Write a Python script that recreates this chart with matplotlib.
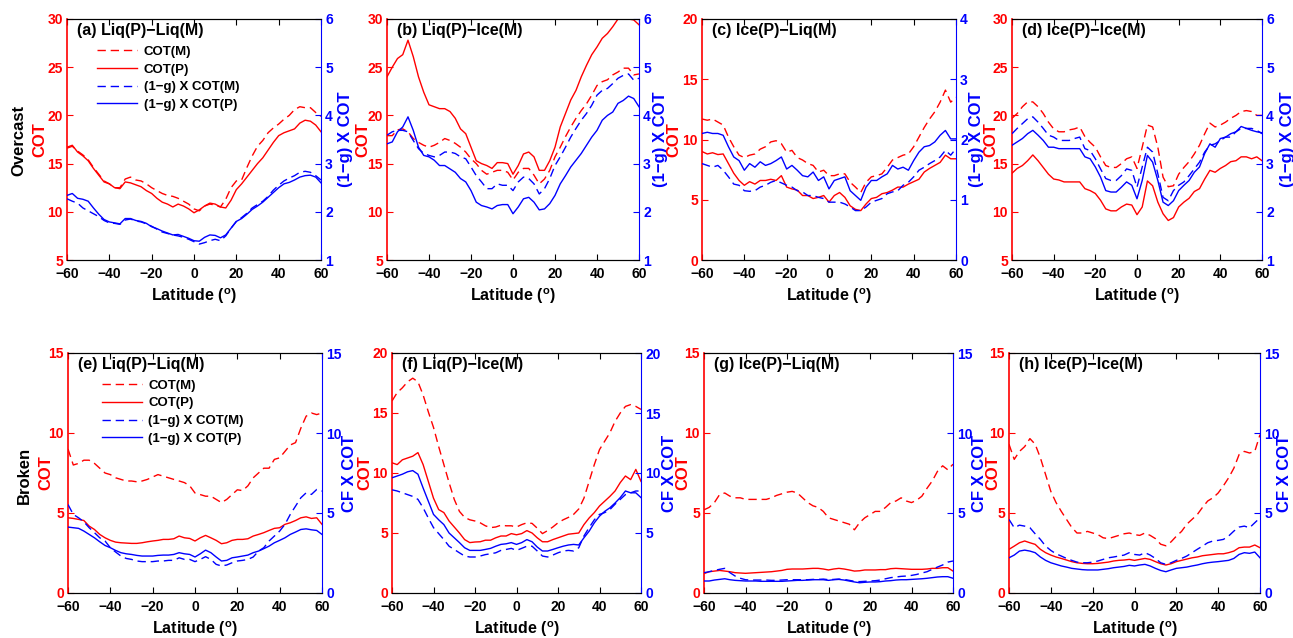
import numpy as np
import matplotlib.pyplot as plt

plt.rcParams['font.family'] = ['Liberation Sans', 'DejaVu Sans']
plt.rcParams['font.weight'] = 'bold'
plt.rcParams['mathtext.fontset'] = 'custom'
plt.rcParams['mathtext.rm'] = 'Liberation Sans:bold'

# latitude grid (every 2.5 degrees)
lat = np.arange(-60, 60.1, 2.5)

# ---------- Overcast ----------
a_cot_m = [16.6, 16.8, 16.3, 15.9, 15.4, 14.6, 13.9, 13.2, 12.9, 12.5,
           12.5, 13.4, 13.6, 13.3, 13.2, 12.9, 12.5, 12.2, 11.9, 11.7,
           11.6, 11.4, 11.1, 10.8, 10.3, 10.1, 10.6, 10.8, 10.7, 10.5,
           11.3, 12.5, 13.2, 13.3, 14.6, 15.8, 16.8, 17.4, 18.2, 18.7,
           19.1, 19.6, 20.0, 20.6, 20.9, 20.8, 20.8, 20.3, 19.9]
a_cot_p = [16.7, 16.9, 16.2, 15.8, 15.3, 14.5, 13.8, 13.1, 12.9, 12.5,
           12.4, 13.1, 13.0, 12.8, 12.6, 12.2, 11.9, 11.4, 11.0, 10.8,
           10.5, 10.8, 10.6, 10.3, 9.9, 10.2, 10.6, 10.9, 10.8, 10.5,
           10.4, 11.2, 12.3, 12.9, 13.6, 14.3, 15.0, 15.6, 16.4, 17.2,
           17.9, 18.2, 18.4, 18.6, 19.2, 19.5, 19.4, 19.0, 18.3]
a_gcot_m = [2.27, 2.22, 2.18, 2.08, 2.02, 1.96, 1.90, 1.82, 1.77, 1.76,
            1.74, 1.83, 1.85, 1.81, 1.79, 1.75, 1.70, 1.64, 1.58, 1.55,
            1.52, 1.50, 1.47, 1.43, 1.38, 1.33, 1.36, 1.40, 1.43, 1.40,
            1.50, 1.66, 1.80, 1.88, 1.97, 2.08, 2.15, 2.22, 2.32, 2.45,
            2.55, 2.64, 2.70, 2.75, 2.82, 2.84, 2.82, 2.75, 2.66]
a_gcot_p = [2.34, 2.38, 2.28, 2.26, 2.22, 2.08, 1.95, 1.84, 1.79, 1.77,
            1.75, 1.86, 1.86, 1.82, 1.80, 1.76, 1.69, 1.65, 1.60, 1.56,
            1.52, 1.53, 1.49, 1.45, 1.40, 1.39, 1.47, 1.52, 1.51, 1.46,
            1.52, 1.66, 1.80, 1.86, 1.95, 2.05, 2.12, 2.20, 2.30, 2.40,
            2.50, 2.58, 2.61, 2.66, 2.72, 2.75, 2.76, 2.72, 2.60]

b_cot_m = [17.9, 17.9, 18.5, 18.6, 18.3, 17.6, 17.2, 16.9, 16.7, 16.9,
           17.2, 17.6, 17.4, 17.1, 16.7, 16.2, 15.5, 15.0, 14.3, 13.9,
           14.1, 14.3, 14.3, 14.1, 13.3, 14.1, 14.5, 14.5, 13.8, 12.9,
           13.4, 14.3, 15.7, 16.7, 17.8, 18.8, 19.7, 20.5, 21.2, 22.1,
           23.1, 23.5, 23.7, 24.2, 24.5, 24.9, 24.9, 24.2, 24.3]
b_cot_p = [24.0, 25.0, 25.9, 26.3, 27.8, 26.1, 24.0, 22.4, 21.1, 20.9,
           20.7, 20.7, 20.4, 19.7, 18.6, 18.1, 16.7, 15.3, 15.0, 14.8,
           14.5, 15.1, 15.1, 15.0, 13.9, 14.8, 16.0, 16.2, 15.7, 14.3,
           14.3, 15.3, 16.7, 18.8, 20.2, 21.6, 22.6, 24.0, 25.2, 26.3,
           27.1, 28.0, 28.5, 29.2, 30.0, 30.4, 30.0, 29.9, 29.4]
b_gcot_m = [3.59, 3.66, 3.69, 3.69, 3.66, 3.48, 3.31, 3.21, 3.17, 3.14,
            3.17, 3.24, 3.24, 3.21, 3.14, 3.10, 2.93, 2.75, 2.62, 2.48,
            2.48, 2.58, 2.55, 2.55, 2.44, 2.62, 2.72, 2.69, 2.58, 2.37,
            2.48, 2.69, 2.96, 3.14, 3.34, 3.55, 3.73, 3.90, 4.04, 4.21,
            4.42, 4.52, 4.56, 4.66, 4.77, 4.83, 4.86, 4.73, 4.77]
b_gcot_p = [3.41, 3.45, 3.66, 3.76, 3.97, 3.69, 3.34, 3.17, 3.14, 3.07,
            2.96, 2.96, 2.89, 2.82, 2.69, 2.62, 2.44, 2.20, 2.13, 2.10,
            2.06, 2.13, 2.15, 2.15, 1.96, 2.10, 2.27, 2.30, 2.20, 2.04,
            2.06, 2.17, 2.34, 2.58, 2.75, 2.93, 3.07, 3.21, 3.38, 3.55,
            3.69, 3.90, 4.00, 4.07, 4.25, 4.31, 4.40, 4.35, 4.18]

c_cot_m = [11.7, 11.6, 11.7, 11.45, 11.2, 10.2, 9.4, 8.7, 8.5, 8.7,
           8.8, 9.2, 9.4, 9.8, 9.9, 9.65, 8.95, 9.1, 8.5, 8.3,
           8.0, 7.85, 7.3, 7.45, 7.0, 7.0, 7.15, 7.15, 6.45, 6.05,
           5.6, 6.45, 6.9, 7.0, 7.15, 7.7, 8.3, 8.5, 8.7, 8.8,
           9.4, 10.2, 11.0, 11.7, 12.3, 13.1, 14.1, 13.1, 13.5]
c_cot_p = [9.0, 8.8, 8.9, 8.75, 8.8, 8.0, 7.2, 6.6, 6.2, 6.5,
           6.3, 6.6, 6.6, 6.7, 6.6, 7.0, 6.05, 5.9, 5.8, 5.35,
           5.35, 5.1, 5.2, 5.35, 4.8, 5.35, 5.6, 5.2, 4.5, 4.2,
           4.1, 4.65, 5.1, 5.2, 5.5, 5.6, 5.8, 6.05, 6.05, 6.3,
           6.5, 6.7, 7.3, 7.6, 7.85, 8.1, 8.7, 8.4, 8.4]
c_gcot_m = [1.60, 1.57, 1.54, 1.57, 1.49, 1.38, 1.26, 1.24, 1.15, 1.14,
            1.15, 1.21, 1.24, 1.29, 1.32, 1.28, 1.24, 1.21, 1.15, 1.13,
            1.07, 1.07, 1.04, 1.02, 0.96, 0.96, 0.96, 0.93, 0.88, 0.82,
            0.82, 0.88, 0.96, 0.99, 1.02, 1.10, 1.13, 1.15, 1.24, 1.29,
            1.38, 1.49, 1.54, 1.60, 1.65, 1.71, 1.82, 1.74, 1.85]
c_gcot_p = [2.10, 2.12, 2.10, 2.10, 2.07, 1.88, 1.71, 1.65, 1.49, 1.60,
            1.54, 1.63, 1.57, 1.60, 1.65, 1.71, 1.51, 1.57, 1.49, 1.40,
            1.38, 1.46, 1.32, 1.38, 1.18, 1.32, 1.35, 1.38, 1.15, 1.07,
            0.99, 1.21, 1.32, 1.32, 1.38, 1.43, 1.57, 1.51, 1.54, 1.49,
            1.65, 1.79, 1.88, 1.90, 1.96, 2.07, 2.15, 2.01, 2.01]

d_cot_m = [19.7, 20.2, 20.9, 21.4, 21.4, 20.9, 20.2, 19.3, 18.6, 18.3,
           18.3, 18.5, 18.6, 18.8, 17.8, 17.2, 16.7, 15.7, 14.8, 14.6,
           14.6, 15.0, 15.5, 15.7, 14.5, 16.7, 19.0, 18.8, 16.7, 13.6,
           12.6, 12.7, 13.9, 14.6, 15.2, 16.0, 16.9, 18.1, 19.2, 18.8,
           19.0, 19.3, 19.7, 20.0, 20.4, 20.5, 20.4, 20.0, 20.0]
d_cot_p = [14.0, 14.5, 14.8, 15.3, 15.9, 15.3, 14.6, 13.9, 13.4, 13.3,
           13.1, 13.1, 13.1, 13.1, 12.4, 12.2, 11.9, 11.2, 10.3, 10.1,
           10.1, 10.5, 10.8, 10.7, 9.7, 10.5, 13.2, 12.7, 11.0, 9.8,
           9.1, 9.4, 10.5, 11.0, 11.4, 12.1, 12.4, 13.4, 14.3, 14.1,
           14.5, 14.8, 15.2, 15.3, 15.7, 15.7, 15.5, 15.7, 15.3]
d_gcot_m = [3.62, 3.73, 3.83, 3.93, 3.97, 3.86, 3.73, 3.59, 3.55, 3.48,
            3.48, 3.48, 3.52, 3.55, 3.31, 3.27, 3.10, 2.89, 2.69, 2.65,
            2.65, 2.75, 2.89, 2.86, 2.51, 2.93, 3.34, 3.24, 2.79, 2.30,
            2.23, 2.44, 2.55, 2.62, 2.75, 2.89, 3.03, 3.24, 3.38, 3.41,
            3.48, 3.55, 3.55, 3.66, 3.73, 3.73, 3.73, 3.69, 3.62]
d_gcot_p = [3.38, 3.45, 3.52, 3.62, 3.69, 3.59, 3.48, 3.34, 3.34, 3.31,
            3.31, 3.31, 3.31, 3.31, 3.14, 3.10, 2.93, 2.72, 2.44, 2.41,
            2.41, 2.51, 2.62, 2.55, 2.27, 2.65, 3.17, 3.03, 2.65, 2.20,
            2.13, 2.23, 2.44, 2.55, 2.65, 2.82, 2.93, 3.21, 3.41, 3.34,
            3.52, 3.55, 3.62, 3.66, 3.77, 3.73, 3.69, 3.66, 3.64]

# ---------- Broken ----------
e_cot_m = [9.0, 8.0, 8.1, 8.3, 8.3, 8.1, 7.8, 7.5, 7.4, 7.2,
           7.1, 7.0, 7.0, 6.95, 7.0, 7.1, 7.25, 7.4, 7.3, 7.2,
           7.1, 7.0, 6.9, 6.7, 6.25, 6.15, 6.05, 6.05, 5.85, 5.65,
           5.85, 6.15, 6.45, 6.4, 6.7, 7.2, 7.5, 7.8, 7.8, 8.35,
           8.45, 8.85, 9.25, 9.4, 10.3, 11.05, 11.25, 11.15, 11.25]
e_cot_p = [4.7, 4.66, 4.6, 4.53, 4.18, 3.97, 3.66, 3.45, 3.29, 3.18,
           3.14, 3.12, 3.1, 3.1, 3.14, 3.2, 3.25, 3.29, 3.35, 3.35,
           3.39, 3.56, 3.45, 3.41, 3.25, 3.45, 3.6, 3.45, 3.29, 3.08,
           3.14, 3.29, 3.35, 3.35, 3.39, 3.56, 3.66, 3.77, 3.91, 4.04,
           4.08, 4.29, 4.39, 4.53, 4.7, 4.76, 4.66, 4.7, 4.29]
e_gcot_m = [5.53, 4.91, 4.7, 4.45, 4.08, 3.77, 3.45, 3.25, 2.83, 2.56,
            2.31, 2.16, 2.1, 2.0, 1.96, 1.96, 1.96, 2.0, 2.0, 2.04,
            2.04, 2.2, 2.1, 2.1, 1.96, 2.1, 2.27, 2.1, 1.79, 1.69,
            1.75, 1.89, 2.0, 2.04, 2.1, 2.25, 2.62, 2.83, 3.25, 3.56,
            3.87, 4.29, 4.91, 5.43, 5.95, 6.26, 6.16, 6.47, 6.37]
e_gcot_p = [4.12, 4.08, 4.04, 3.87, 3.66, 3.45, 3.2, 2.97, 2.83, 2.66,
            2.52, 2.45, 2.41, 2.35, 2.31, 2.31, 2.31, 2.35, 2.37, 2.37,
            2.41, 2.52, 2.45, 2.41, 2.25, 2.45, 2.68, 2.52, 2.25, 2.0,
            2.04, 2.2, 2.25, 2.31, 2.37, 2.52, 2.62, 2.77, 2.93, 3.14,
            3.29, 3.45, 3.66, 3.81, 3.97, 4.01, 3.95, 3.91, 3.66]

f_cot_m = [16.0, 16.7, 17.1, 17.6, 17.9, 17.6, 16.5, 15.1, 13.8, 12.2,
           10.7, 9.2, 7.8, 6.8, 6.3, 6.1, 6.0, 5.85, 5.6, 5.45,
           5.5, 5.65, 5.6, 5.6, 5.5, 5.7, 5.85, 5.8, 5.4, 4.95,
           5.2, 5.5, 5.85, 6.1, 6.3, 6.55, 7.0, 7.9, 9.3, 10.7,
           11.95, 12.65, 13.35, 14.3, 15.0, 15.55, 15.7, 15.55, 15.3]
f_cot_p = [10.85, 10.7, 11.1, 11.25, 11.4, 11.7, 10.7, 9.3, 7.9, 6.95,
           6.7, 6.0, 5.5, 5.0, 4.45, 4.2, 4.25, 4.27, 4.4, 4.4,
           4.6, 4.75, 4.75, 4.95, 4.85, 4.95, 5.2, 5.0, 4.6, 4.27,
           4.27, 4.45, 4.6, 4.75, 4.9, 4.95, 5.0, 5.7, 6.25, 6.7,
           7.25, 7.65, 8.05, 8.5, 9.2, 9.75, 9.45, 10.3, 9.3]
f_gcot_m = [8.6, 8.5, 8.35, 8.2, 8.05, 7.8, 7.1, 6.25, 5.45, 4.95,
            4.45, 3.9, 3.63, 3.35, 3.08, 3.0, 3.0, 3.08, 3.2, 3.27,
            3.35, 3.55, 3.63, 3.72, 3.55, 3.72, 3.9, 3.9, 3.5, 3.08,
            3.0, 3.16, 3.35, 3.5, 3.55, 3.5, 3.77, 4.75, 5.45, 6.1,
            6.55, 6.7, 6.95, 7.4, 7.8, 8.2, 8.35, 8.5, 8.5]
f_gcot_p = [9.6, 9.75, 9.9, 10.1, 10.2, 9.9, 8.75, 7.65, 6.55, 6.1,
            5.7, 5.0, 4.6, 4.2, 3.77, 3.55, 3.55, 3.55, 3.63, 3.72,
            3.9, 4.05, 4.1, 4.2, 4.05, 4.2, 4.45, 4.27, 3.83, 3.5,
            3.5, 3.63, 3.77, 3.9, 4.0, 4.05, 4.0, 4.6, 5.15, 5.85,
            6.4, 6.8, 7.1, 7.5, 7.95, 8.5, 8.35, 8.35, 7.95]

g_cot_m = [5.2, 5.35, 5.65, 6.15, 6.25, 6.05, 5.95, 5.95, 5.85, 5.85,
           5.85, 5.85, 5.85, 5.95, 6.1, 6.2, 6.3, 6.35, 6.25, 5.95,
           5.65, 5.45, 5.35, 5.1, 4.7, 4.6, 4.5, 4.4, 4.3, 3.95,
           4.4, 4.7, 4.9, 5.1, 5.1, 5.35, 5.65, 5.75, 5.95, 5.75,
           5.65, 5.8, 6.05, 6.55, 7.0, 7.6, 7.95, 7.7, 8.05]
g_cot_p = [1.21, 1.33, 1.37, 1.41, 1.37, 1.33, 1.27, 1.25, 1.23, 1.25,
           1.27, 1.29, 1.31, 1.33, 1.37, 1.41, 1.48, 1.5, 1.5, 1.5,
           1.52, 1.54, 1.54, 1.5, 1.44, 1.5, 1.54, 1.5, 1.44, 1.37,
           1.39, 1.44, 1.44, 1.44, 1.46, 1.46, 1.52, 1.54, 1.52, 1.5,
           1.48, 1.48, 1.48, 1.5, 1.54, 1.54, 1.58, 1.58, 1.37]
g_gcot_m = [1.27, 1.33, 1.41, 1.48, 1.54, 1.27, 1.06, 0.92, 0.83, 0.81,
            0.81, 0.81, 0.81, 0.79, 0.79, 0.81, 0.83, 0.83, 0.83, 0.83,
            0.83, 0.85, 0.85, 0.87, 0.83, 0.85, 0.87, 0.85, 0.79, 0.73,
            0.71, 0.73, 0.75, 0.77, 0.81, 0.89, 0.96, 1.0, 1.04, 1.06,
            1.1, 1.16, 1.25, 1.33, 1.48, 1.62, 1.75, 1.93, 2.0]
g_gcot_p = [0.75, 0.75, 0.81, 0.85, 0.89, 0.83, 0.79, 0.77, 0.75, 0.75,
            0.75, 0.73, 0.73, 0.73, 0.73, 0.73, 0.75, 0.77, 0.79, 0.79,
            0.81, 0.83, 0.83, 0.83, 0.79, 0.83, 0.85, 0.81, 0.75, 0.69,
            0.64, 0.67, 0.69, 0.69, 0.71, 0.75, 0.77, 0.81, 0.83, 0.83,
            0.85, 0.87, 0.89, 0.92, 0.96, 1.0, 1.02, 1.02, 0.92]

h_cot_m = [9.3, 8.35, 8.85, 9.15, 9.65, 9.3, 8.45, 7.4, 6.35, 5.65,
           5.1, 4.6, 4.1, 3.75, 3.75, 3.85, 3.75, 3.65, 3.45, 3.4,
           3.5, 3.6, 3.7, 3.75, 3.65, 3.6, 3.75, 3.6, 3.4, 3.05,
           2.95, 3.2, 3.55, 3.85, 4.3, 4.6, 4.9, 5.35, 5.75, 5.95,
           6.25, 6.7, 7.2, 7.8, 8.65, 8.85, 8.75, 8.85, 9.9]
h_cot_p = [2.73, 2.93, 3.14, 3.25, 3.14, 3.04, 2.73, 2.52, 2.37, 2.25,
           2.16, 2.06, 1.96, 1.89, 1.85, 1.83, 1.83, 1.85, 1.89, 1.93,
           2.0, 2.04, 2.06, 2.1, 2.04, 2.1, 2.16, 2.1, 1.96, 1.83,
           1.75, 1.83, 1.96, 2.04, 2.12, 2.2, 2.25, 2.33, 2.37, 2.41,
           2.45, 2.45, 2.52, 2.62, 2.83, 2.87, 2.87, 3.0, 2.83]
h_gcot_m = [4.6, 4.08, 4.24, 4.18, 4.08, 3.7, 3.35, 2.93, 2.66, 2.45,
            2.31, 2.16, 2.04, 1.93, 1.89, 1.89, 1.93, 2.0, 2.1, 2.2,
            2.25, 2.31, 2.37, 2.52, 2.41, 2.37, 2.52, 2.37, 2.16, 1.89,
            1.79, 1.89, 2.04, 2.16, 2.31, 2.52, 2.73, 2.93, 3.14, 3.25,
            3.29, 3.35, 3.56, 3.87, 4.12, 4.18, 4.08, 4.39, 4.7]
h_gcot_p = [2.2, 2.37, 2.62, 2.68, 2.62, 2.52, 2.25, 2.04, 1.89, 1.79,
            1.69, 1.62, 1.54, 1.5, 1.46, 1.44, 1.44, 1.44, 1.48, 1.52,
            1.58, 1.62, 1.66, 1.73, 1.69, 1.75, 1.79, 1.69, 1.54, 1.41,
            1.33, 1.44, 1.54, 1.58, 1.62, 1.69, 1.75, 1.83, 1.89, 1.93,
            1.96, 2.0, 2.04, 2.16, 2.41, 2.52, 2.48, 2.56, 2.2]

titles = ['(a) Liq(P)\u2212Liq(M)', '(b) Liq(P)\u2212Ice(M)',
          '(c) Ice(P)\u2212Liq(M)', '(d) Ice(P)\u2212Ice(M)',
          '(e) Liq(P)\u2212Liq(M)', '(f) Liq(P)\u2212Ice(M)',
          '(g) Ice(P)\u2212Liq(M)', '(h) Ice(P)\u2212Ice(M)']
legend_labels = ['COT(M)', 'COT(P)', '(1\u2212g) X COT(M)', '(1\u2212g) X COT(P)']

RED = '#ff0000'
BLUE = '#0000ff'
W, H = 1293, 638

fig = plt.figure(figsize=(W / 100, H / 100), dpi=100)

# pixel boxes: left, right, top, bottom ; label offsets (px) left / right
boxes = [(67, 321, 19, 260, 20, 17), (387, 639, 19, 260, 17, 14),
         (702, 956, 19, 260, 21, 13), (1012, 1262, 19, 260, 14, 18),
         (68, 322, 353, 593, 15, 20), (392, 641, 353, 593, 20, 21),
         (704, 953, 353, 593, 14, 19), (1009, 1260, 353, 593, 9, 17)]
series = [(a_cot_m, a_cot_p, a_gcot_m, a_gcot_p),
          (b_cot_m, b_cot_p, b_gcot_m, b_gcot_p),
          (c_cot_m, c_cot_p, c_gcot_m, c_gcot_p),
          (d_cot_m, d_cot_p, d_gcot_m, d_gcot_p),
          (e_cot_m, e_cot_p, e_gcot_m, e_gcot_p),
          (f_cot_m, f_cot_p, f_gcot_m, f_gcot_p),
          (g_cot_m, g_cot_p, g_gcot_m, g_gcot_p),
          (h_cot_m, h_cot_p, h_gcot_m, h_gcot_p)]
left_lim = [(5, 30), (5, 30), (0, 20), (5, 30), (0, 15), (0, 20), (0, 15), (0, 15)]
right_lim = [(1, 6), (1, 6), (0, 4), (1, 6), (0, 15), (0, 20), (0, 15), (0, 15)]
right_step = [1, 1, 1, 1, 5, 5, 5, 5]

dash = (6, 3.5)
for i in range(8):
    x0, x1, y0, y1, lpad, rpad = boxes[i]
    wpx = x1 - x0
    ax = fig.add_axes([x0 / W, 1 - y1 / H, wpx / W, (y1 - y0) / H])
    ax2 = ax.twinx()
    cm, cp, gm, gp = series[i]

    l1, = ax.plot(lat, cm, color=RED, lw=1.0, dashes=dash)
    l2, = ax.plot(lat, cp, color=RED, lw=1.0)
    l3, = ax2.plot(lat, gm, color=BLUE, lw=1.0, dashes=dash)
    l4, = ax2.plot(lat, gp, color=BLUE, lw=1.0)

    ax.set_xlim(-60, 60)
    ax.set_xticks(np.arange(-60, 61, 20))
    ax.set_ylim(*left_lim[i])
    ax.set_yticks(np.arange(left_lim[i][0], left_lim[i][1] + 0.1, 5))
    ax2.set_ylim(*right_lim[i])
    ax2.set_yticks(np.arange(right_lim[i][0], right_lim[i][1] + 0.1, right_step[i]))

    ax.tick_params(axis='x', direction='in', length=4, labelsize=10, pad=5,
                   top=True, color='black')
    ax.tick_params(axis='y', direction='in', length=4, labelsize=10, pad=3,
                   colors=RED)
    ax2.tick_params(axis='y', direction='in', length=4, labelsize=10, pad=3,
                    colors=BLUE)
    for lab in ax.get_xticklabels() + ax.get_yticklabels() + ax2.get_yticklabels():
        lab.set_fontweight('bold')

    for sp in ('top', 'bottom'):
        ax.spines[sp].set_color('black')
        ax2.spines[sp].set_color('black')
    ax.spines['left'].set_color(RED)
    ax.spines['left'].set_linewidth(1.2)
    ax.spines['right'].set_visible(False)
    ax2.spines['left'].set_visible(False)
    ax2.spines['right'].set_color(BLUE)

    ax.set_xlabel('Latitude ($^\\mathrm{o}$)', fontsize=11.5, fontweight='bold')
    ax.set_ylabel('COT', fontsize=12, fontweight='bold', color=RED)
    ax.yaxis.set_label_coords(-lpad / wpx, 0.5)
    rlab = '(1\u2212g) X COT' if i < 4 else 'CF X COT'
    ax2.set_ylabel(rlab, fontsize=12, fontweight='bold', color=BLUE)
    ax2.yaxis.set_label_coords(1 + rpad / wpx, 0.5)

    ax.text(0.04, 0.985, titles[i], transform=ax.transAxes, ha='left', va='top',
            fontsize=11.5, fontweight='bold', zorder=5)

    if i in (0, 4):
        ax2.legend([l1, l2, l3, l4], legend_labels, loc='upper left',
                   bbox_to_anchor=(0.12 if i == 0 else 0.135, 0.89),
                   frameon=False, handlelength=3.0,
                   handletextpad=0.5, labelspacing=0.42, borderpad=0,
                   borderaxespad=0, prop={'weight': 'bold', 'size': 9.5})

fig.text(19 / W, 1 - 140 / H, 'Overcast', rotation=90, ha='center', va='center',
         fontsize=12, fontweight='bold')
fig.text(24 / W, 1 - 475 / H, 'Broken', rotation=90, ha='center', va='center',
         fontsize=12, fontweight='bold')

fig.savefig('out.png', dpi=100)
